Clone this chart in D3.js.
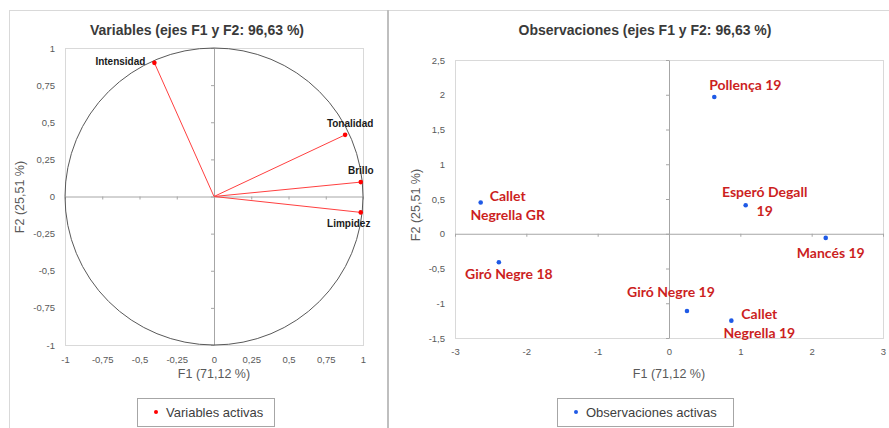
<!DOCTYPE html>
<html>
<head>
<meta charset="utf-8">
<script src="https://cdn.jsdelivr.net/npm/d3@7"></script>
<style>
  body { margin: 0; background: #fff; }
  text { font-family: "Liberation Sans", Arial, sans-serif; }
</style>
</head>
<body>
<div id="chart"></div>
<script>
// Variables (correlation circle)
const variables = ['Intensidad', 'Tonalidad', 'Brillo', 'Limpidez'];
const varF1 = [-0.40, 0.88, 0.985, 0.985];
const varF2 = [0.90, 0.415, 0.097, -0.107];

// Observations
const observations = ['Pollença 19', 'Callet\nNegrella GR', 'Esperó Degall\n19', 'Mancés 19',
    'Giró Negre 18', 'Giró Negre 19', 'Callet\nNegrella 19'];
const obsF1 = [0.635, -2.64, 1.075, 2.197, -2.385, 0.252, 0.874];
const obsF2 = [1.967, 0.45, 0.41, -0.06, -0.41, -1.112, -1.25];

// Tick values
const varTicks = [-1, -0.75, -0.5, -0.25, 0, 0.25, 0.5, 0.75, 1];
const obsTicksX = [-3, -2, -1, 0, 1, 2, 3];
const obsTicksY = [-1.5, -1, -0.5, 0, 0.5, 1, 1.5, 2, 2.5];

// Texts
const titleLeft = 'Variables (ejes F1 y F2: 96,63 %)';
const titleRight = 'Observaciones (ejes F1 y F2: 96,63 %)';
const xTitle = 'F1 (71,12 %)';
const yTitle = 'F2 (25,51 %)';
const legendLeft = 'Variables activas';
const legendRight = 'Observaciones activas';

// label placement (offsets in px from the point)
const varLabelPos = [
    { dx: -9, dy: 2, anchor: 'end' },
    { dx: 5, dy: -8, anchor: 'middle' },
    { dx: 0, dy: -8, anchor: 'middle' },
    { dx: -12, dy: 15, anchor: 'middle' }
];
const obsLabelPos = [
    { dx: 31, dy: -7 },
    { dx: 27, dy: -1 },
    { dx: 19, dy: -8 },
    { dx: 5, dy: 20 },
    { dx: 10, dy: 17 },
    { dx: -16, dy: -14 },
    { dx: 28, dy: -2 }
];

const fmt = d => String(d).replace('.', ',');

const svg = d3.select('#chart')
    .append('svg')
    .attr('width', 889)
    .attr('height', 428);

// panel frames
svg.append('rect')
    .attr('x', 9.5).attr('y', 10.5)
    .attr('width', 378).attr('height', 440)
    .attr('fill', 'none').attr('stroke', '#d9d9d9');
svg.append('rect')
    .attr('x', 388.5).attr('y', 10.5)
    .attr('width', 520).attr('height', 440)
    .attr('fill', 'none').attr('stroke', '#d9d9d9');
svg.append('line')
    .attr('x1', 388).attr('x2', 388)
    .attr('y1', 10).attr('y2', 428)
    .attr('stroke', '#bfbfbf').attr('stroke-width', 2);

function drawFrame(x, y, xTicks, yTicks, opts) {
    const g = svg.append('g');
    const [x0, x1] = x.range();
    const [y0, y1] = y.range();

    // plot area border
    g.append('rect')
        .attr('x', x0 + 0.5).attr('y', y1 + 0.5)
        .attr('width', x1 - x0).attr('height', y0 - y1)
        .attr('fill', 'none').attr('stroke', '#d9d9d9');

    // zero lines with small ticks
    g.append('g')
        .attr('transform', `translate(${x(0)},0)`)
        .call(d3.axisLeft(y).tickValues(yTicks).tickSize(3).tickSizeOuter(0).tickFormat(''))
        .call(a => a.selectAll('path, line').attr('stroke', '#a6a6a6'));
    g.append('g')
        .attr('transform', `translate(0,${y(0)})`)
        .call(d3.axisBottom(x).tickValues(xTicks).tickSize(3).tickSizeOuter(0).tickFormat(''))
        .call(a => a.selectAll('path, line').attr('stroke', '#a6a6a6'));

    // tick labels
    g.append('g')
        .attr('transform', `translate(${x0},0)`)
        .call(d3.axisLeft(y).tickValues(yTicks).tickSize(0).tickPadding(10).tickFormat(fmt))
        .call(a => a.select('.domain').remove())
        .call(a => a.selectAll('text')
            .attr('fill', '#595959')
            .style('font-family', '"Liberation Sans", Arial, sans-serif')
            .style('font-size', '9.5px'));
    g.append('g')
        .attr('transform', `translate(0,${y0})`)
        .call(d3.axisBottom(x).tickValues(xTicks).tickSize(0).tickPadding(opts.xPad).tickFormat(fmt))
        .call(a => a.select('.domain').remove())
        .call(a => a.selectAll('text')
            .attr('fill', '#595959')
            .style('font-family', '"Liberation Sans", Arial, sans-serif')
            .style('font-size', '9.5px'));

    // axis titles
    g.append('text')
        .attr('x', x(0)).attr('y', 378)
        .attr('text-anchor', 'middle')
        .attr('fill', '#595959')
        .style('font-size', '12.5px')
        .text(xTitle);
    g.append('text')
        .attr('transform', `translate(${opts.yTitleX},${opts.yTitleY}) rotate(-90)`)
        .attr('text-anchor', 'middle')
        .attr('fill', '#595959')
        .style('font-size', '12.5px')
        .text(yTitle);

    // chart title
    g.append('text')
        .attr('x', opts.titleX).attr('y', 35)
        .attr('text-anchor', 'middle')
        .attr('fill', '#3a3a3a')
        .style('font-size', '14px')
        .style('font-weight', 'bold')
        .text(opts.title);

    // legend
    const lg = g.append('g').attr('transform', `translate(${opts.legendX},398)`);
    lg.append('rect')
        .attr('x', 0.5).attr('y', 0.5)
        .attr('width', opts.legendW).attr('height', 28)
        .attr('fill', '#fff').attr('stroke', '#a6a6a6');
    lg.append('circle')
        .attr('cx', 19).attr('cy', 14).attr('r', 2)
        .attr('fill', opts.color);
    lg.append('text')
        .attr('x', 29).attr('y', 18.5)
        .attr('fill', '#404040')
        .style('font-size', '13px')
        .text(opts.legend);
    return g;
}

// ---- Left: variables ----
const xL = d3.scaleLinear().domain([-1, 1]).range([65, 363]);
const yL = d3.scaleLinear().domain([-1, 1]).range([345, 48]);

const gL = drawFrame(xL, yL, varTicks, varTicks, {
    xPad: 11, yTitleX: 24, yTitleY: 197, titleX: 197,
    title: titleLeft, legendX: 137, legendW: 137, legend: legendLeft, color: '#ff0000'
});

gL.append('ellipse')
    .attr('cx', xL(0)).attr('cy', yL(0))
    .attr('rx', xL(1) - xL(0)).attr('ry', yL(0) - yL(1))
    .attr('fill', 'none').attr('stroke', '#595959').attr('stroke-width', 1);

const varData = variables.map((name, i) => ({ name, f1: varF1[i], f2: varF2[i], pos: varLabelPos[i] }));

gL.selectAll('line.vec')
    .data(varData)
    .enter()
    .append('line')
    .attr('class', 'vec')
    .attr('x1', xL(0)).attr('y1', yL(0))
    .attr('x2', d => xL(d.f1)).attr('y2', d => yL(d.f2))
    .attr('stroke', '#ff4040').attr('stroke-width', 1);

gL.selectAll('circle.var')
    .data(varData)
    .enter()
    .append('circle')
    .attr('class', 'var')
    .attr('cx', d => xL(d.f1)).attr('cy', d => yL(d.f2))
    .attr('r', 2.3)
    .attr('fill', '#ff0000');

gL.selectAll('text.var')
    .data(varData)
    .enter()
    .append('text')
    .attr('class', 'var')
    .attr('x', d => xL(d.f1) + d.pos.dx)
    .attr('y', d => yL(d.f2) + d.pos.dy)
    .attr('text-anchor', d => d.pos.anchor)
    .attr('fill', '#1a1a1a')
    .style('font-size', '10px')
    .style('font-weight', 'bold')
    .text(d => d.name);

// ---- Right: observations ----
const xR = d3.scaleLinear().domain([-3, 3]).range([455, 883]);
const yR = d3.scaleLinear().domain([-1.5, 2.5]).range([338, 60]);

const gR = drawFrame(xR, yR, obsTicksX, obsTicksY, {
    xPad: 10, yTitleX: 420, yTitleY: 205, titleX: 645,
    title: titleRight, legendX: 557, legendW: 176, legend: legendRight, color: '#1f5ae6'
});

const obsData = observations.map((name, i) => ({ name, f1: obsF1[i], f2: obsF2[i], pos: obsLabelPos[i] }));

gR.selectAll('circle.obs')
    .data(obsData)
    .enter()
    .append('circle')
    .attr('class', 'obs')
    .attr('cx', d => xR(d.f1)).attr('cy', d => yR(d.f2))
    .attr('r', 2.3)
    .attr('fill', '#1f5ae6');

const obsLabels = gR.selectAll('text.obs')
    .data(obsData)
    .enter()
    .append('text')
    .attr('class', 'obs')
    .attr('text-anchor', 'middle')
    .attr('fill', '#cc1f1f')
    .style('font-family', 'Lato, "Open Sans", sans-serif')
    .style('font-size', '14px')
    .style('font-weight', 'bold');

obsLabels.selectAll('tspan')
    .data(d => d.name.split('\n').map((line, k) => ({ line, k, d })))
    .enter()
    .append('tspan')
    .attr('x', t => xR(t.d.f1) + t.d.pos.dx)
    .attr('y', t => yR(t.d.f2) + t.d.pos.dy + t.k * 19)
    .text(t => t.line);
</script>
</body>
</html>
